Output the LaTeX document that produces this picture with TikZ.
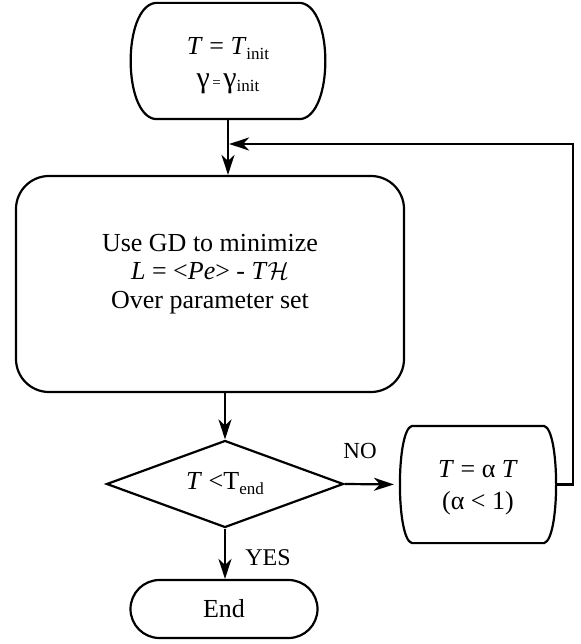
\documentclass[tikz,border=0pt]{standalone}
\usepackage{fontspec}
\setmainfont{Liberation Serif}
\usetikzlibrary{shapes.geometric,arrows.meta,calc}
\newcommand\lowsub[2][5pt]{\raisebox{-#1}{\fontsize{17}{17}\selectfont #2}}
\newcommand\biggam{{\fontsize{30}{30}\selectfont γ}}
\newcommand\bulgeoutline[2]{%
  \draw (#1.north west) -- (#1.north east)
    .. controls ($(#1.north east)+(#2,4)$) and ($(#1.south east)+(#2,-4)$) .. (#1.south east)
    -- (#1.south west)
    .. controls ($(#1.south west)+(-#2,-4)$) and ($(#1.north west)+(-#2,4)$) .. (#1.north west) -- cycle;}
\begin{document}
\begin{tikzpicture}[x=1pt,y=-1pt,line width=2.2pt,
  txt/.style={font=\fontsize{26}{31}\selectfont, align=center, inner sep=0pt},
  lbl/.style={font=\fontsize{24}{24}\selectfont, inner sep=0pt},
  arr/.style={-{Stealth[length=20pt,width=13pt,inset=6pt]}},
  roundbox/.style={draw, txt}]
\useasboundingbox (0,0) rectangle (580,644);

\node[minimum width=143pt, minimum height=114pt, inner sep=0pt] (start) at (228,61) {};
\bulgeoutline{start}{33}
\node[txt, font=\fontsize{26}{33}\selectfont] (starttext) at (228,66)
  {\textit{T} = \textit{T}\lowsub{init}\\
   \biggam{\fontsize{15}{15}\selectfont\,=\,}\biggam\lowsub[4pt]{init}};

\node[roundbox, rounded corners=33pt, minimum width=388pt, minimum height=216pt] (main) at (210,284) {};
\node[txt, font=\fontsize{26}{28.5}\selectfont] (maintext) at (210,274)
  {Use GD to minimize\\ \textit{L} = <\textit{Pe}> - \textit{T}$\mathcal{H}$\\ Over parameter set};

\node[draw, diamond, aspect=2.72, minimum width=237pt, minimum height=87pt, txt] (test) at (225,484)
  {\textit{T} <T\lowsub{end}};

\node[minimum width=130pt, minimum height=115pt, inner sep=0pt] (upd) at (478,484.5) {};
\bulgeoutline{upd}{16}
\node[txt, font=\fontsize{26}{32}\selectfont] (updtext) at (478,488)
  {\textit{T} = α \textit{T}\\(α < 1)};
\coordinate (updL) at ($(upd.west)+(-12,0)$);
\coordinate (updR) at ($(upd.east)+(12,0)$);

\node[roundbox, rounded corners=29pt, minimum width=187pt, minimum height=58pt] (end) at (224,609) {End};

\node[lbl, font=\fontsize{23}{23}\selectfont] (no) at (360,451) {NO};
\node[lbl] (yes) at (268,558) {YES};

\coordinate (fbc) at (573,144);

\draw[arr] (start.south) -- (start.south |- main.north);
\draw[arr] (main.south -| test.north) -- (test.north);
\draw[arr, shorten >=6pt] (test.east) -- (updL);
\draw[arr] (test.south) -- (test.south |- end.north);
\draw[arr, shorten >=1.1pt] (updR) -| (fbc) -- (fbc -| start.south);
\end{tikzpicture}
\end{document}
